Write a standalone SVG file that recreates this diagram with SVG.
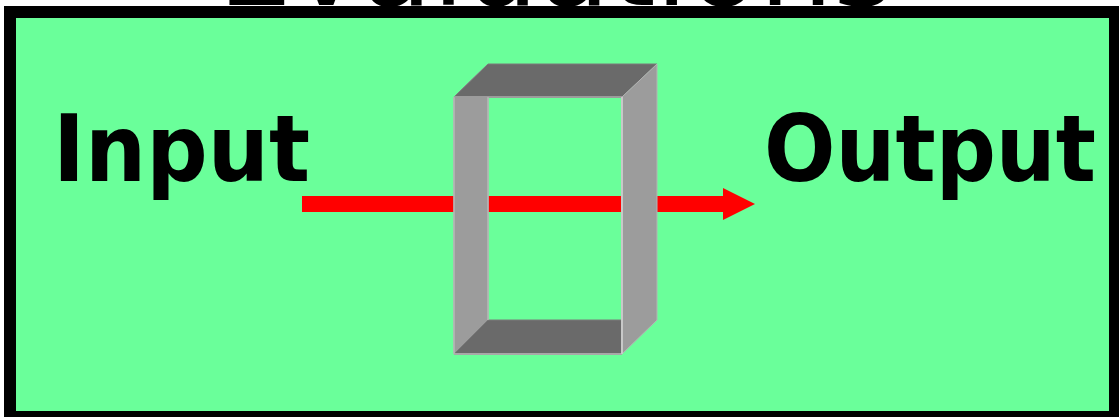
<svg xmlns="http://www.w3.org/2000/svg" width="1119" height="417" viewBox="0 0 1119 417">
<style>
.lbl{font-family:"DejaVu Sans",sans-serif;font-weight:bold;font-size:93px;fill:#000}
.title{font-family:"DejaVu Sans",sans-serif;font-size:114px;fill:#000}
.dark{fill:#6a6a6a;stroke:#7a7a7a;stroke-width:1}
.light{fill:#9c9c9c;stroke:#b4b4b4;stroke-width:1}
</style>
<defs>
<marker id="ah" markerWidth="32" markerHeight="32" refX="0" refY="16" orient="auto" markerUnits="userSpaceOnUse">
<path d="M0,0 L32,16 L0,32 Z" fill="#ff0000"/>
</marker>
</defs>
<rect width="1119" height="417" fill="#fff"/>
<text class="title" x="556" y="5" text-anchor="middle" textLength="676" lengthAdjust="spacingAndGlyphs">Evaluations</text>
<g id="frame">
<rect x="10" y="12" width="1105" height="405" fill="#6aff9a" stroke="#000" stroke-width="12"/>
</g>
<g id="connectors">
<line x1="302" y1="204" x2="723" y2="204" stroke="#ff0000" stroke-width="16" marker-end="url(#ah)"/>
</g>
<g id="input">
<text class="lbl" x="53" y="181" textLength="257" lengthAdjust="spacingAndGlyphs">Input</text>
</g>
<g id="output">
<text class="lbl" x="764" y="181" textLength="332" lengthAdjust="spacingAndGlyphs">Output</text>
</g>
<g id="box">
<polygon class="light" points="454,97 488,64 488,320 454,354"/>
<polygon class="dark" points="454,354 488,320 622,320 622,354"/>
<polygon class="dark" points="454,97 488,64 657,64 622,97"/>
<polygon class="light" points="622,97 657,64 657,320 622,354"/>
<line x1="454" y1="97" x2="622" y2="97" stroke="#9c9c9c" stroke-width="2"/>
<line x1="488" y1="97" x2="488" y2="320" stroke="#b4b4b4" stroke-width="1.5"/>
<line x1="454" y1="354" x2="622" y2="354" stroke="#a8a8a8" stroke-width="2"/>
<line x1="622" y1="97" x2="622" y2="354" stroke="#c8c8c8" stroke-width="2"/>
<line x1="454" y1="97" x2="454" y2="354" stroke="#b4b4b4" stroke-width="1.5"/>
</g>
</svg>
